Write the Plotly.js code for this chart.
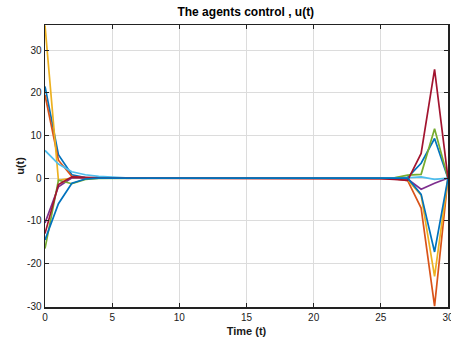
<!DOCTYPE html>
<html>
<head>
<meta charset="utf-8">
<script src="https://cdn.plot.ly/plotly-3.0.1.min.js"></script>
<style>html,body{margin:0;padding:0;background:#fff;}#chart{width:451px;height:341px;}</style>
</head>
<body>
<div id="chart"></div>
<script>
var time = [0,1,2,3,4,5,6,7,8,9,10,11,12,13,14,15,16,17,18,19,20,21,22,23,24,25,26,27,28,29,30];
var agent1 = [21.5,5.5,0.8,0.15,0.03,0,0,0,0,0,0,0,0,0,0,0,0,0,0,0,0,0,0,0,0,0,0.05,0.2,3.5,9.3,0];
var agent2 = [19.5,4.2,0.4,0.05,0,0,0,0,0,0,0,0,0,0,0,0,0,0,0,0,0,0,0,0,0,0,-0.1,-0.6,-7,-30,0];
var agent3 = [35.8,-0.5,0,0,0,0,0,0,0,0,0,0,0,0,0,0,0,0,0,0,0,0,0,0,0,0,0,-0.4,-4,-23,0];
var agent4 = [-10.5,-2,0.1,0,0,0,0,0,0,0,0,0,0,0,0,0,0,0,0,0,0,0,0,0,0,0,0,-0.2,-2.6,-1.2,0];
var agent5 = [-16.5,-0.5,-1.3,-0.3,-0.05,0,0,0,0,0,0,0,0,0,0,0,0,0,0,0,0,0,0,0,0,0,0.1,0.7,0.9,11.6,0];
var agent6 = [6.5,3.3,1.5,0.8,0.4,0.2,0.1,0.05,0,0,0,0,0,0,0,0,0,0,0,0,0,0,0,0,0,0,0,0.1,0.3,-0.3,0];
var agent7 = [-13,-1.5,0.3,0.1,0.05,0,0,0,0,0,0,0,0,0,0,0,0,0,0,0,0,0,0,0,0,-0.1,-0.3,-0.5,5.8,25.5,0];
var agent8 = [-14.5,-6,-1.2,-0.2,0,0,0,0,0,0,0,0,0,0,0,0,0,0,0,0,0,0,0,0,0,0,0,0,-3.8,-17.3,0];
var series = [agent1,agent2,agent3,agent4,agent5,agent6,agent7,agent8];
var colors = ['#0072BD','#D95319','#EDB120','#7E2F8E','#77AC30','#4DBEEE','#A2142F','#0072BD'];
var xTicks = [0,5,10,15,20,25,30];
var yTicks = [-30,-20,-10,0,10,20,30];

var traces = series.map(function(s,i){
  return {x: time, y: s, type:'scatter', mode:'lines', line:{color: colors[i], width:1.7}, showlegend:false, hoverinfo:'none'};
});

var fam = 'Liberation Sans, Arial, sans-serif';
var axisCommon = {
  showline:true, linecolor:'#222', linewidth:1.5, mirror:'ticks', ticks:'inside', ticklen:4, tickcolor:'#222',
  showgrid:true, gridcolor:'#dcdcdc', gridwidth:1, zeroline:false, ticklabeloverflow:'allow',
  tickfont:{family:fam, size:10, color:'#1a1a1a'}
};

var layout = {
  width:451, height:341,
  margin:{l:45, r:3, t:25, b:34},
  paper_bgcolor:'#fff', plot_bgcolor:'#fff',
  title:{text:'<b>The agents control , u(t)</b>', x:0.545, xanchor:'center', y:0.965, yanchor:'middle',
         font:{family:fam, size:12, color:'#000'}},
  xaxis: Object.assign({}, axisCommon, {range:[0,30], tickvals:xTicks, ticktext:xTicks.map(String),
         title:{text:'<b>Time (t)</b>', standoff:6, font:{family:fam, size:11, color:'#1a1a1a'}}}),
  yaxis: Object.assign({}, axisCommon, {range:[-30.2,35.9], tickvals:yTicks, ticktext:yTicks.map(String),
         title:{text:'<b>u(t)</b>', standoff:0, font:{family:fam, size:11, color:'#1a1a1a'}}})
};

Plotly.newPlot('chart', traces, layout, {staticPlot:true, displayModeBar:false});
</script>
</body>
</html>
